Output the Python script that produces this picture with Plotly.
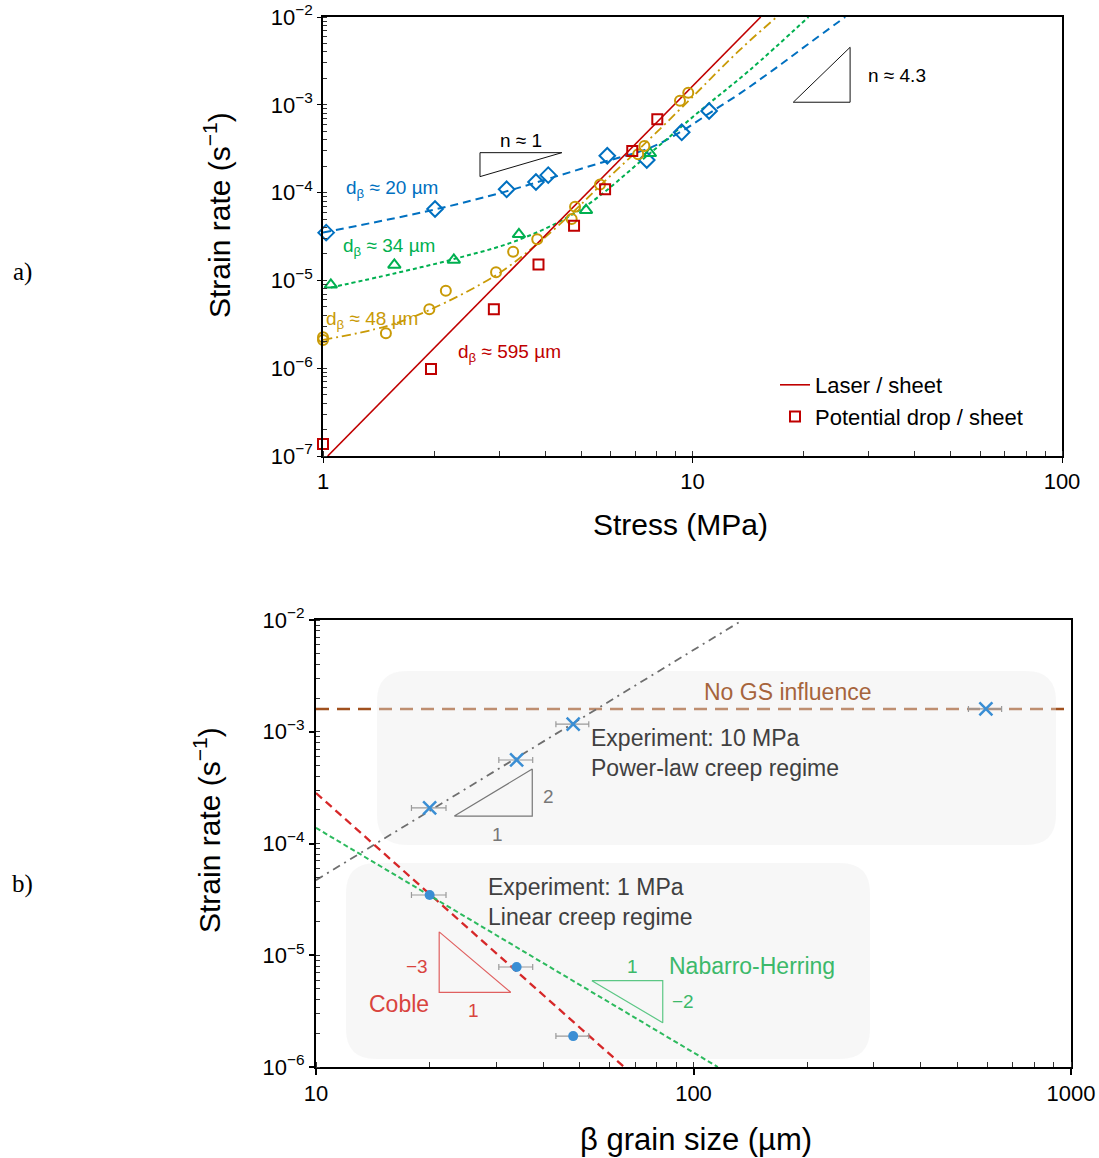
import plotly.graph_objects as go

W, H = 1099, 1158

# ---------------- Panel a data (stress in MPa, strain rate in 1/s) ----------------
stress_20 = [1.02, 2.01, 3.14, 3.77, 4.07, 5.88, 7.52, 9.35, 11.09]
rate_20 = [3.5e-5, 6.5e-5, 1.09e-4, 1.32e-4, 1.58e-4, 2.63e-4, 2.35e-4, 4.86e-4, 8.5e-4]

stress_34 = [1.05, 1.56, 2.26, 3.39, 5.15, 7.67]
rate_34 = [8.9e-6, 1.5e-5, 1.71e-5, 3.35e-5, 6.3e-5, 2.8e-4]

stress_48 = [1.0, 1.0, 1.48, 1.94, 2.15, 2.94, 3.27, 3.80, 4.71, 4.81, 5.62, 7.13, 7.41, 9.25, 9.74]
rate_48 = [2.1e-6, 2.25e-6, 2.5e-6, 4.7e-6, 7.6e-6, 1.24e-5, 2.12e-5, 2.94e-5, 5.0e-5, 6.9e-5,
           1.24e-4, 2.73e-4, 3.4e-4, 1.11e-3, 1.37e-3]

stress_595 = [1.0, 1.96, 2.90, 3.83, 4.78, 5.80, 6.87, 8.03]
rate_595 = [1.37e-7, 9.8e-7, 4.7e-6, 1.52e-5, 4.2e-5, 1.09e-4, 2.98e-4, 6.84e-4]

# fitted curves
fit_20_x = [1.0, 2.0, 3.1, 4.1, 5.6, 7.7, 9.35, 11.1, 13.45, 16.55, 20.4, 25.9]
fit_20_y = [3.5e-5, 6.4e-5, 1.02e-4, 1.45e-4, 2.16e-4, 3.25e-4, 5.0e-4, 8.0e-4, 1.35e-3, 2.5e-3, 4.8e-3, 1.0e-2]

fit_34_x = [1.05, 1.56, 2.26, 3.39, 5.0, 7.67, 10.47, 14.31, 20.6]
fit_34_y = [8.3e-6, 1.2e-5, 1.75e-5, 2.9e-5, 6.5e-5, 2.8e-4, 8.5e-4, 2.5e-3, 1.0e-2]

fit_48_x = [1.0, 1.48, 1.94, 2.94, 3.80, 4.81, 5.62, 7.21, 9.74, 11.15, 12.64, 14.31, 16.9]
fit_48_y = [2.1e-6, 3.0e-6, 4.6e-6, 1.15e-5, 2.6e-5, 6.3e-5, 1.2e-4, 3.2e-4, 1.1e-3, 1.95e-3, 3.3e-3, 5.4e-3, 1.0e-2]

fit_595_x = [1.03, 15.3]
fit_595_y = [1.0e-7, 1.0e-2]

# slope triangles (panel a)
tri_n1_x = [2.66, 2.66, 4.43, 2.66]
tri_n1_y = [2.85e-4, 1.52e-4, 2.85e-4, 2.85e-4]
tri_n43_x = [18.74, 26.7, 26.7, 18.74]
tri_n43_y = [1.07e-3, 1.07e-3, 4.52e-3, 1.07e-3]

# ---------------- Panel b data (grain size in um) ----------------
grain_10 = [20, 34, 48, 595]
grain_10_err = [2.1, 3.5, 4.8, 60]
rate_10mpa = [2.08e-4, 5.59e-4, 1.17e-3, 1.6e-3]

grain_1 = [20, 34, 48]
grain_1_err = [2.1, 3.5, 4.8]
rate_1mpa = [3.46e-5, 7.85e-6, 1.89e-6]

nogs_rate = 1.6e-3
powerlaw_x = [10, 135]
powerlaw_y = [4.7e-5, 1.0e-2]
coble_x = [10, 65.5]
coble_y = [2.83e-4, 1.0e-6]
nh_x = [10, 116]
nh_y = [1.38e-4, 1.0e-6]

tri_p2_x = [23.25, 37.4, 37.4, 23.25]
tri_p2_y = [1.76e-4, 1.76e-4, 4.64e-4, 1.76e-4]
tri_coble_x = [21.2, 21.2, 32.8, 21.2]
tri_coble_y = [1.62e-5, 4.66e-6, 4.66e-6, 1.62e-5]
tri_nh_x = [53.8, 82.9, 82.9, 53.8]
tri_nh_y = [5.92e-6, 5.92e-6, 2.49e-6, 5.92e-6]

# ---------------- styling ----------------
FONT = "Liberation Sans, Arial, sans-serif"
C_BLUE = "#0070C0"
C_GREEN = "#00B050"
C_GOLD = "#C99A06"
C_RED = "#C00000"
C_BROWN = "#A0501E"
C_XB = "#3A8ED4"
C_GRAY = "#6E6E6E"
C_COBLE = "#D62728"
C_NH = "#2DBA5E"

FW, FH = W, H


def px(x):
    return x / FW


def py(y):
    return 1 - y / FH


fig = go.Figure()

# ----- panel a traces -----
fig.add_trace(go.Scatter(x=fit_20_x, y=fit_20_y, mode="lines", line=dict(color=C_BLUE, width=2, dash="8px,5px", shape="spline"),
                         showlegend=False, xaxis="x", yaxis="y"))
fig.add_trace(go.Scatter(x=fit_34_x, y=fit_34_y, mode="lines", line=dict(color=C_GREEN, width=2, dash="4px,3px", shape="spline"),
                         showlegend=False, xaxis="x", yaxis="y"))
fig.add_trace(go.Scatter(x=fit_48_x, y=fit_48_y, mode="lines", line=dict(color=C_GOLD, width=1.8, dash="9px,4px,2px,4px", shape="spline"),
                         showlegend=False, xaxis="x", yaxis="y"))
fig.add_trace(go.Scatter(x=fit_595_x, y=fit_595_y, mode="lines", line=dict(color=C_RED, width=1.6),
                         name="Laser / sheet", legendrank=1, xaxis="x", yaxis="y"))

fig.add_trace(go.Scatter(x=stress_20, y=rate_20, mode="markers", cliponaxis=False,
                         marker=dict(symbol="diamond-open", size=12, color=C_BLUE, line=dict(width=2, color=C_BLUE)),
                         showlegend=False, xaxis="x", yaxis="y"))
fig.add_trace(go.Scatter(x=stress_34, y=rate_34, mode="markers", cliponaxis=False,
                         marker=dict(symbol="triangle-up-open", size=11, color=C_GREEN, line=dict(width=2, color=C_GREEN)),
                         showlegend=False, xaxis="x", yaxis="y"))
fig.add_trace(go.Scatter(x=stress_48, y=rate_48, mode="markers", cliponaxis=False,
                         marker=dict(symbol="circle-open", size=10, color=C_GOLD, line=dict(width=2, color=C_GOLD)),
                         showlegend=False, xaxis="x", yaxis="y"))
fig.add_trace(go.Scatter(x=stress_595, y=rate_595, mode="markers", cliponaxis=False,
                         marker=dict(symbol="square-open", size=10, color=C_RED, line=dict(width=2, color=C_RED)),
                         name="Potential drop / sheet", legendrank=2, xaxis="x", yaxis="y"))

for tx, ty in [(tri_n1_x, tri_n1_y), (tri_n43_x, tri_n43_y)]:
    fig.add_trace(go.Scatter(x=tx, y=ty, mode="lines", line=dict(color="#111111", width=1),
                             showlegend=False, xaxis="x", yaxis="y"))

# ----- panel b traces -----
fig.add_trace(go.Scatter(x=powerlaw_x, y=powerlaw_y, mode="lines", line=dict(color=C_GRAY, width=1.8, dash="8px,5px,2px,5px"),
                         showlegend=False, xaxis="x2", yaxis="y2"))
fig.add_trace(go.Scatter(x=coble_x, y=coble_y, mode="lines", line=dict(color=C_COBLE, width=2.3, dash="8px,5px"),
                         showlegend=False, xaxis="x2", yaxis="y2"))
fig.add_trace(go.Scatter(x=nh_x, y=nh_y, mode="lines", line=dict(color=C_NH, width=2, dash="5px,3px"),
                         showlegend=False, xaxis="x2", yaxis="y2"))

fig.add_trace(go.Scatter(x=tri_p2_x, y=tri_p2_y, mode="lines", line=dict(color="#777777", width=1.2),
                         showlegend=False, xaxis="x2", yaxis="y2"))
fig.add_trace(go.Scatter(x=tri_coble_x, y=tri_coble_y, mode="lines", line=dict(color="#E06060", width=1.2),
                         showlegend=False, xaxis="x2", yaxis="y2"))
fig.add_trace(go.Scatter(x=tri_nh_x, y=tri_nh_y, mode="lines", line=dict(color="#5CC785", width=1.2),
                         showlegend=False, xaxis="x2", yaxis="y2"))

fig.add_trace(go.Scatter(x=grain_10, y=rate_10mpa, mode="markers", cliponaxis=False,
                         error_x=dict(type="data", array=grain_10_err, color="#9A9A9A", thickness=1.2, width=3),
                         marker=dict(symbol="x-thin-open", size=13, color=C_XB, line=dict(width=2.5, color=C_XB)),
                         showlegend=False, xaxis="x2", yaxis="y2"))
fig.add_trace(go.Scatter(x=grain_1, y=rate_1mpa, mode="markers", cliponaxis=False,
                         error_x=dict(type="data", array=grain_1_err, color="#9A9A9A", thickness=1.2, width=3),
                         marker=dict(symbol="circle", size=10, color=C_XB),
                         showlegend=False, xaxis="x2", yaxis="y2"))


# ----- shapes: brown "no GS" line and rounded regime boxes -----
def rrect(x0, y0, x1, y1, r):
    pts = [
        ("M", [(x0 + r, y0)]),
        ("L", [(x1 - r, y0)]),
        ("Q", [(x1, y0), (x1, y0 + r)]),
        ("L", [(x1, y1 - r)]),
        ("Q", [(x1, y1), (x1 - r, y1)]),
        ("L", [(x0 + r, y1)]),
        ("Q", [(x0, y1), (x0, y1 - r)]),
        ("L", [(x0, y0 + r)]),
        ("Q", [(x0, y0), (x0 + r, y0)]),
    ]
    s = ""
    for cmd, ps in pts:
        s += cmd + " " + " ".join(f"{px(a):.5f},{py(b):.5f}" for a, b in ps) + " "
    return s + "Z"


shapes = [
    dict(type="line", xref="x2 domain", yref="y2", x0=0, x1=1, y0=nogs_rate, y1=nogs_rate,
         line=dict(color=C_BROWN, width=2.5, dash="13px,8px"), layer="below"),
    dict(type="path", xref="paper", yref="paper", path=rrect(377, 671, 1056, 845, 30),
         fillcolor="rgba(235,235,235,0.4)", line=dict(width=0), layer="below"),
    dict(type="path", xref="paper", yref="paper", path=rrect(346, 863, 870, 1059, 30),
         fillcolor="rgba(235,235,235,0.4)", line=dict(width=0), layer="below"),
]


def ann(text, x, y, size=18, color="black", xanchor="center", yanchor="middle", align="center", angle=0, family=FONT):
    return dict(text=text, x=px(x), y=py(y), xref="paper", yref="paper", showarrow=False,
                xanchor=xanchor, yanchor=yanchor, align=align, textangle=angle,
                font=dict(family=family, size=size, color=color))


annotations = [
    # panel a
    ann("n ≈ 1", 521, 140, 19),
    ann("n ≈ 4.3", 866, 75, 19, xanchor="left"),
    ann("d<sub>β</sub> ≈ 20 µm", 392, 189, 19, C_BLUE),
    ann("d<sub>β</sub> ≈ 34 µm", 389, 247, 19, C_GREEN),
    ann("d<sub>β</sub> ≈ 48 µm", 372, 320, 19, C_GOLD),
    ann("d<sub>β</sub> ≈ 595 µm", 509, 353, 19, C_RED),
    ann("Stress (MPa)", 680, 524, 30),
    ann("Strain rate (s<sup>−1</sup>)", 217, 215, 30, angle=-90),
    ann("a)", 22, 272, 25, family="Liberation Serif, Times New Roman, serif"),
    # panel b
    ann("No GS influence", 787, 692, 23, "#A6643C"),
    ann("Experiment: 10 MPa<br>Power-law creep regime", 589, 753, 23, "#404040", xanchor="left", align="left"),
    ann("Experiment: 1 MPa<br>Linear creep regime", 486, 902, 23, "#404040", xanchor="left", align="left"),
    ann("2", 548, 796, 19, "#777777"),
    ann("1", 497, 834, 19, "#777777"),
    ann("−3", 417, 966, 19, "#D9443E"),
    ann("1", 473, 1010, 19, "#D9443E"),
    ann("Coble", 399, 1004, 23, "#D9443E"),
    ann("1", 632, 966, 19, "#3CB96A"),
    ann("−2", 683, 1001, 19, "#3CB96A"),
    ann("Nabarro-Herring", 667, 966, 23, "#3CB96A", xanchor="left"),
    ann("β grain size (µm)", 696, 1139, 31),
    ann("Strain rate (s<sup>−1</sup>)", 207, 830, 30, angle=-90),
    ann("b)", 22, 884, 25, family="Liberation Serif, Times New Roman, serif"),
]

minor_a = [m * 10 ** e for e in range(0, 2) for m in range(1, 10)] + [100]
minor_ay = [m * 10.0 ** e for e in range(-7, -2) for m in range(1, 10)] + [1e-2]
minor_bx = [m * 10 ** e for e in range(1, 3) for m in range(1, 10)] + [1000]
minor_by = [m * 10.0 ** e for e in range(-6, -2) for m in range(1, 10)] + [1e-2]


def sup(e):
    return f"10<sup>−{abs(e)}</sup>"


tickfont = dict(family=FONT, size=22, color="black")

fig.update_layout(
    width=FW, height=FH, autosize=False,
    margin=dict(l=0, r=0, t=0, b=0, pad=0),
    paper_bgcolor="white", plot_bgcolor="white",
    font=dict(family=FONT, color="black"),
    xaxis=dict(type="log", range=[0, 2], domain=[px(323), px(1062)], anchor="y", automargin=False,
               tickvals=[1, 10, 100], ticktext=["1", "10", "100"], tickfont=tickfont, ticklabeloverflow="allow",
               ticks="outside", ticklen=5, tickwidth=1.2, tickcolor="black",
               minor=dict(tickvals=minor_a, ticks="inside", ticklen=5, tickwidth=1, tickcolor="#333333"),
               showline=True, linecolor="black", linewidth=1.5, mirror=True, showgrid=False, zeroline=False),
    yaxis=dict(type="log", range=[-7, -2], domain=[py(456), py(17)], anchor="x", automargin=False,
               tickvals=[10.0 ** e for e in range(-7, -1)], ticktext=[sup(e) for e in range(-7, -1)], tickfont=tickfont,
               ticklabeloverflow="allow",
               ticks="outside", ticklen=4, tickwidth=1.2, tickcolor="black",
               minor=dict(tickvals=minor_ay, ticks="inside", ticklen=4, tickwidth=1, tickcolor="#333333"),
               showline=True, linecolor="black", linewidth=1.5, mirror=True, showgrid=False, zeroline=False),
    xaxis2=dict(type="log", range=[1, 3], domain=[px(316), px(1071)], anchor="y2", automargin=False,
                tickvals=[10, 100, 1000], ticktext=["10", "100", "1000"], tickfont=tickfont, ticklabeloverflow="allow",
                ticks="outside", ticklen=6, tickwidth=1.5, tickcolor="black",
                minor=dict(tickvals=minor_bx, ticks="inside", ticklen=5, tickwidth=1.2, tickcolor="#333333"),
                showline=True, linecolor="black", linewidth=2, mirror=True, showgrid=False, zeroline=False),
    yaxis2=dict(type="log", range=[-6, -2], domain=[py(1067), py(620)], anchor="x2", automargin=False,
                tickvals=[10.0 ** e for e in range(-6, -1)], ticktext=[sup(e) for e in range(-6, -1)], tickfont=tickfont,
                ticklabeloverflow="allow",
                ticks="outside", ticklen=5, tickwidth=1.5, tickcolor="black",
                minor=dict(tickvals=minor_by, ticks="inside", ticklen=4, tickwidth=1.2, tickcolor="#333333"),
                showline=True, linecolor="black", linewidth=2, mirror=True, showgrid=False, zeroline=False),
    legend=dict(x=px(775), y=py(364), xanchor="left", yanchor="top", bgcolor="rgba(0,0,0,0)",
                font=dict(family=FONT, size=22, color="black"), tracegroupgap=2, itemwidth=30),
    shapes=shapes,
    annotations=annotations,
)

fig.write_html("out.html", config={"displayModeBar": False},
               post_script="document.body.style.margin='0px';document.body.style.overflow='hidden';")
